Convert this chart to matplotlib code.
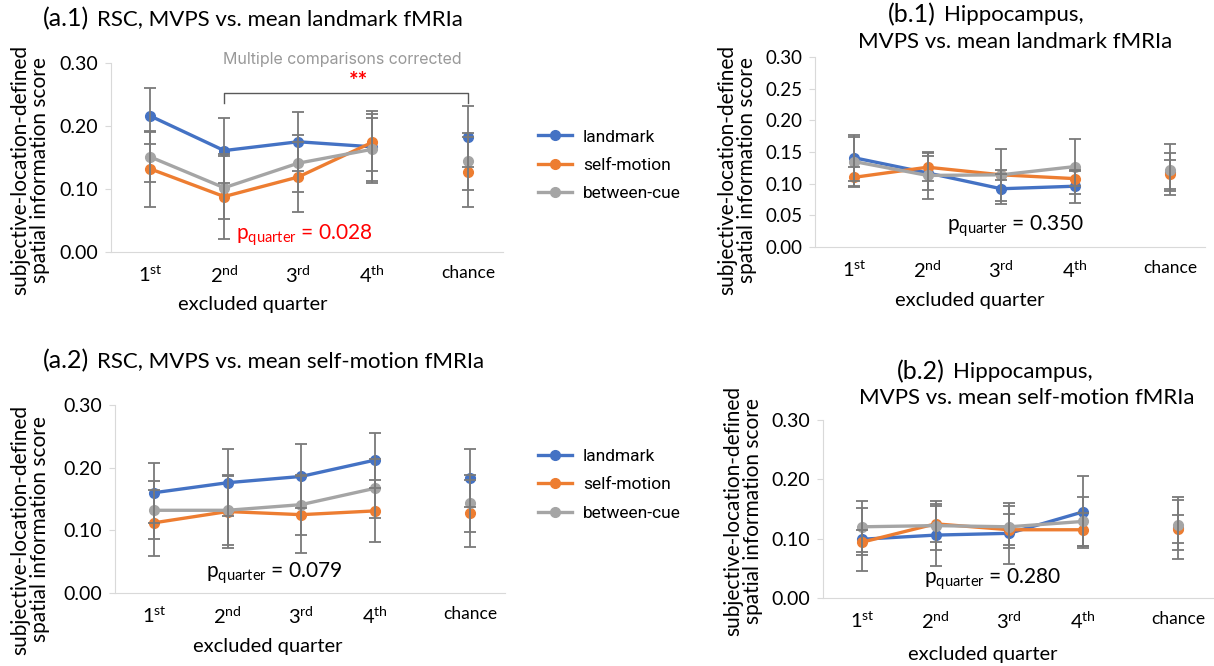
import matplotlib
matplotlib.use("Agg")
import matplotlib.pyplot as plt
from matplotlib.text import Annotation

plt.rcParams['font.family'] = ['Lato', 'DejaVu Sans']
plt.rcParams['mathtext.fontset'] = 'custom'
plt.rcParams['mathtext.rm'] = 'Lato'
plt.rcParams['mathtext.it'] = 'Lato:italic'

# categories (chance sits a bit further right)
cats = [r"1$^{\mathrm{st}}$", r"2$^{\mathrm{nd}}$", r"3$^{\mathrm{rd}}$", r"4$^{\mathrm{th}}$", "chance"]
xpos = [0, 1, 2, 3, 4.3]
series_names = ["landmark", "self-motion", "between-cue"]
colors = ["#4472C4", "#ED7D31", "#A5A5A5"]

# (a.1) RSC, landmark fMRIa
a1_lm = [0.216, 0.161, 0.175, 0.167, 0.183]
a1_lm_err = [0.045, 0.052, 0.047, 0.057, 0.048]
a1_sm = [0.132, 0.088, 0.119, 0.174, 0.127]
a1_sm_err = [0.060, 0.068, 0.056, 0.045, 0.055]
a1_bc = [0.151, 0.102, 0.141, 0.163, 0.144]
a1_bc_err = [0.040, 0.050, 0.045, 0.050, 0.045]

# (a.2) RSC, self-motion fMRIa
a2_lm = [0.160, 0.176, 0.186, 0.212, 0.184]
a2_lm_err = [0.048, 0.053, 0.051, 0.044, 0.046]
a2_sm = [0.112, 0.130, 0.125, 0.131, 0.127]
a2_sm_err = [0.053, 0.058, 0.061, 0.050, 0.054]
a2_bc = [0.132, 0.132, 0.141, 0.167, 0.143]
a2_bc_err = [0.046, 0.055, 0.048, 0.047, 0.045]

# (b.1) Hippocampus, landmark fMRIa
b1_lm = [0.141, 0.117, 0.092, 0.096, 0.118]
b1_lm_err = [0.036, 0.027, 0.024, 0.026, 0.030]
b1_sm = [0.110, 0.126, 0.114, 0.108, 0.115]
b1_sm_err = [0.016, 0.022, 0.008, 0.012, 0.023]
b1_bc = [0.135, 0.113, 0.114, 0.127, 0.122]
b1_bc_err = [0.038, 0.037, 0.041, 0.043, 0.040]

# (b.2) Hippocampus, self-motion fMRIa
b2_lm = [0.099, 0.106, 0.109, 0.145, 0.118]
b2_lm_err = [0.053, 0.052, 0.051, 0.060, 0.053]
b2_sm = [0.094, 0.125, 0.115, 0.115, 0.116]
b2_sm_err = [0.021, 0.030, 0.026, 0.028, 0.024]
b2_bc = [0.120, 0.122, 0.120, 0.129, 0.123]
b2_bc_err = [0.043, 0.041, 0.035, 0.042, 0.042]

fig = plt.figure(figsize=(12.14, 6.66), dpi=100)


def panel(rect, data, yticks, pval, pcolor, p_xy, xlab_xy, tick_fs):
    ax = fig.add_axes(rect)
    handles = []
    for (m, e), c, name in zip(data, colors, series_names):
        h, = ax.plot(xpos[:4], m[:4], color=c, lw=2.4, marker='o', ms=7, zorder=3, label=name)
        ax.plot(xpos[4], m[4], color=c, marker='o', ms=7, zorder=3)
        ax.errorbar(xpos, m, yerr=e, fmt='none', ecolor='#7a7a7a', elinewidth=1.3,
                    capsize=4, capthick=1.3, zorder=4)
        handles.append(h)
    ax.set_xlim(-0.53, 4.77)
    ax.set_ylim(0, 0.30)
    ax.set_yticks(yticks)
    ax.set_yticklabels(["%.2f" % v for v in yticks], fontsize=tick_fs)
    ax.set_xticks(xpos)
    ax.set_xticklabels(cats, fontsize=14.5)
    ax.get_xticklabels()[-1].set_fontsize(12.5)
    ax.tick_params(axis='x', length=0, pad=9)
    ax.tick_params(axis='y', length=4, color='#d9d9d9', pad=5)
    for s in ['top', 'right']:
        ax.spines[s].set_visible(False)
    for s in ['left', 'bottom']:
        ax.spines[s].set_color('#d9d9d9')
    ax.text(p_xy[0], p_xy[1], r"p$_{\mathrm{quarter}}$ = " + pval, color=pcolor,
            fontsize=15, ha='center', va='center')
    ax.text(xlab_xy[0], xlab_xy[1], "excluded quarter", fontsize=14.5, ha='center', va='center',
            transform=ax.get_xaxis_transform())
    return ax, handles


ax1, hs = panel([0.0914, 0.6216, 0.323, 0.2838],
                [(a1_lm, a1_lm_err), (a1_sm, a1_sm_err), (a1_bc, a1_bc_err)],
                [0, 0.1, 0.2, 0.3], "0.028", "#ff0000", (2.09, 0.027), (1.39, -0.28), 14)
ax2, _ = panel([0.0947, 0.1096, 0.3213, 0.2823],
               [(a2_lm, a2_lm_err), (a2_sm, a2_sm_err), (a2_bc, a2_bc_err)],
               [0, 0.1, 0.2, 0.3], "0.079", "black", (1.63, 0.032), (1.55, -0.287), 14)
ax3, _ = panel([0.6713, 0.6291, 0.3213, 0.2853],
               [(b1_lm, b1_lm_err), (b1_sm, b1_sm_err), (b1_bc, b1_bc_err)],
               [0, 0.05, 0.1, 0.15, 0.2, 0.25, 0.3], "0.350", "black", (2.19, 0.033), (1.58, -0.279), 13.5)
ax4, _ = panel([0.6779, 0.1021, 0.3213, 0.2673],
               [(b2_lm, b2_lm_err), (b2_sm, b2_sm_err), (b2_bc, b2_bc_err)],
               [0, 0.1, 0.2, 0.3], "0.280", "black", (1.78, 0.031), (1.64, -0.32), 14)

# significance bracket in (a.1)
ax1.plot([xpos[1], xpos[1], xpos[4], xpos[4]], [0.237, 0.252, 0.252, 0.237],
         color='#595959', lw=1, clip_on=False)
ax1.text(2.81, 0.270, "**", color='#ff0000', fontsize=16, fontweight='bold', ha='center', va='center')
ax1.text(2.6, 0.306, "Multiple comparisons corrected", color='#999999', fontsize=11.5,
         ha='center', va='center', family=['Inter', 'DejaVu Sans'])

# legends
for yc in [0.752, 0.272]:
    fig.legend(hs, series_names, loc='center left', bbox_to_anchor=(0.430, yc), frameon=False,
               prop={'family': ['Roboto', 'DejaVu Sans'], 'size': 12.5}, handlelength=2.0,
               labelspacing=0.75, handletextpad=0.6)

# y labels
ylab = "subjective-location-defined\nspatial information score"
for x, y in [(0.025, 0.745), (0.025, 0.205), (0.607, 0.745), (0.612, 0.233)]:
    fig.text(x, y, ylab, rotation=90, fontsize=15, ha='center', va='center', linespacing=1.0)


# titles: larger tag followed by the rest of the title
def title(x, y, tag, rest):
    t = fig.text(x, y, tag, fontsize=18, ha='left', va='center')
    fig.add_artist(Annotation(rest, xy=(1, 0.5), xycoords=t, xytext=(6, 0),
                              textcoords='offset points', fontsize=16, va='center'))


title(0.035, 1 - 19 / 666, "(a.1)", "RSC, MVPS vs. mean landmark fMRIa")
title(0.035, 1 - 361 / 666, "(a.2)", "RSC, MVPS vs. mean self-motion fMRIa")
title(0.731, 1 - 15 / 666, "(b.1)", "Hippocampus,")
fig.text(0.836, 1 - 42 / 666, "MVPS vs. mean landmark fMRIa", fontsize=16, ha='center', va='center')
title(0.739, 1 - 372 / 666, "(b.2)", "Hippocampus,")
fig.text(0.846, 1 - 398 / 666, "MVPS vs. mean self-motion fMRIa", fontsize=16, ha='center', va='center')

fig.savefig("out.png", dpi=100)
